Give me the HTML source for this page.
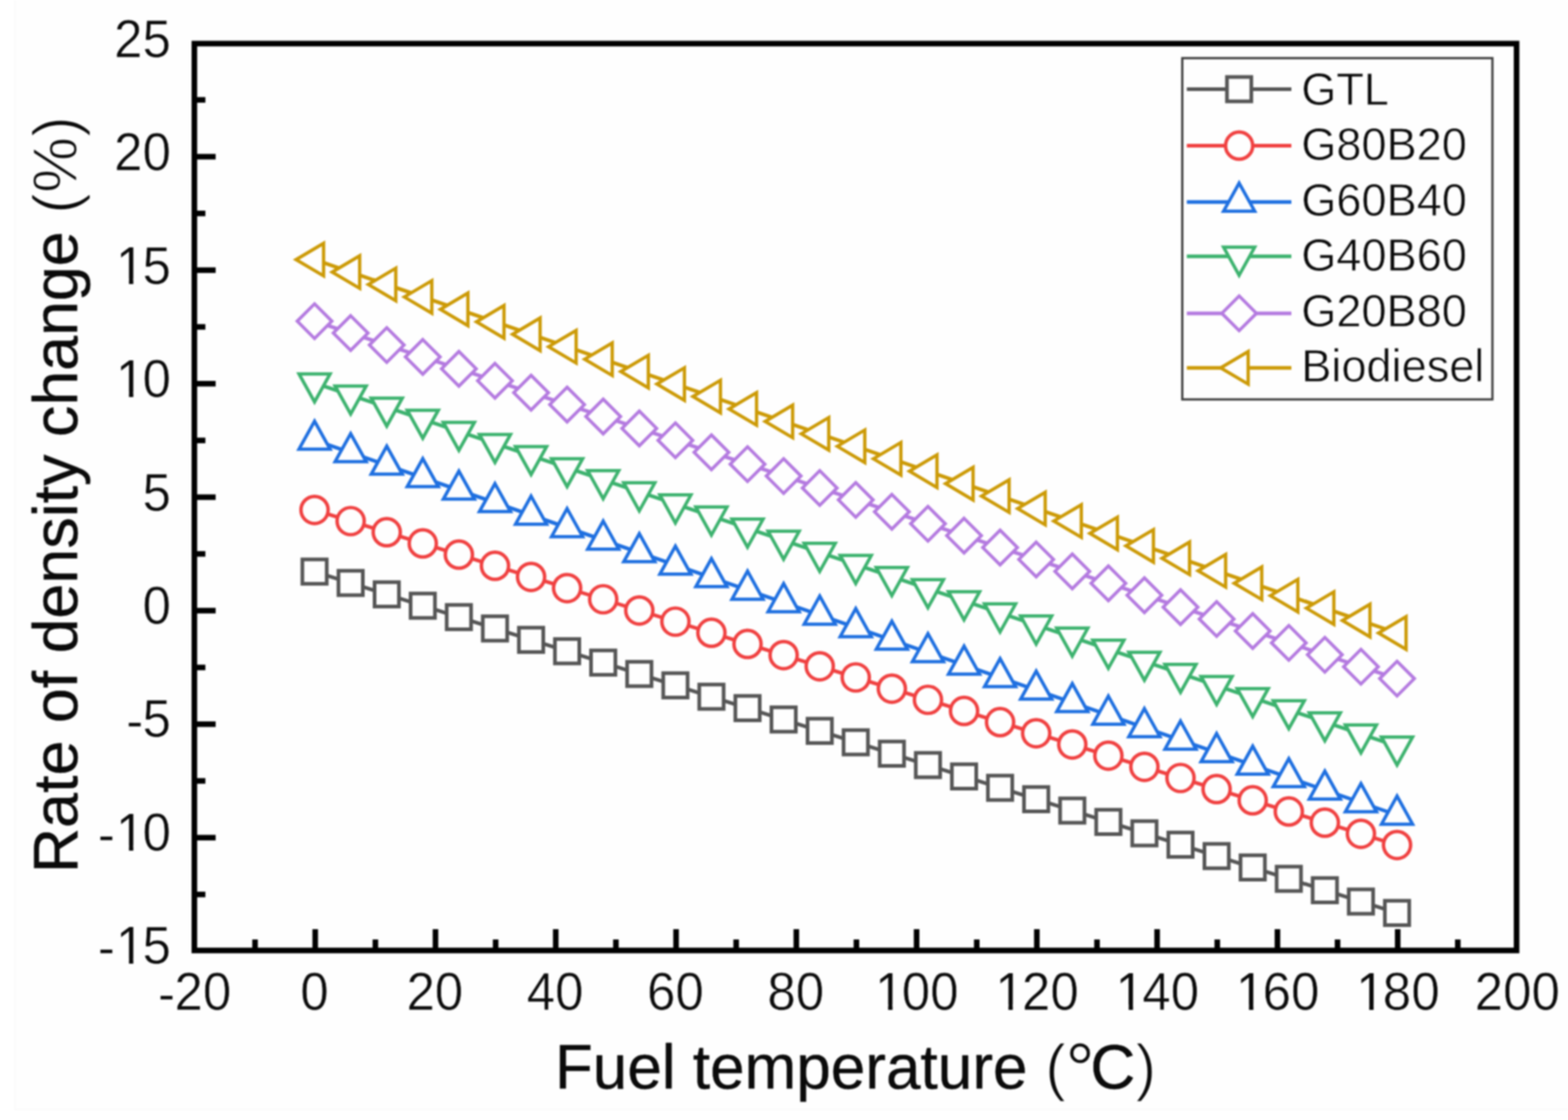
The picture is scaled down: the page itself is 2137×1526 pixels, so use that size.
<!DOCTYPE html>
<html lang="en"><head><meta charset="utf-8"><title>Rate of density change vs fuel temperature</title>
<style>
html,body{margin:0;padding:0;background:#fff;}
body{width:2137px;height:1526px;overflow:hidden;}
svg{display:block;filter:blur(1.0px);}
text{font-family:"Liberation Sans",Arial,Helvetica,sans-serif;fill:#0a0a0a;}
.tk{font-size:69.6px;stroke:#fefefe;stroke-width:0.7;}
.lg{font-size:61.5px;stroke:#fefefe;stroke-width:0.8;}
.tt{stroke:#0a0a0a;stroke-width:0.5;stroke-linejoin:round;}
.th{stroke:#fefefe;stroke-width:1.6;}
.on{stroke-width:0.2;}
.dg{stroke:#fefefe;stroke-width:0.8;}
</style></head><body>
<svg width="2137" height="1526" viewBox="0 0 2137 1526">
<rect x="0" y="0" width="2137" height="1526" fill="#fff"/>
<rect x="20" y="0" width="2117" height="1512" fill="#fefefe"/>
<path d="M20.5 0V1511.5H2137" fill="none" stroke="#fbfbfb" stroke-width="3"/>
<g>
<line x1="428.7" y1="778.8" x2="1904" y2="1243.9" stroke="#555555" stroke-width="5"/>
<rect x="412.1" y="762.2" width="33.2" height="33.2" fill="#fefefe" stroke="#555555" stroke-width="5"/>
<rect x="461.3" y="777.7" width="33.2" height="33.2" fill="#fefefe" stroke="#555555" stroke-width="5"/>
<rect x="510.5" y="793.2" width="33.2" height="33.2" fill="#fefefe" stroke="#555555" stroke-width="5"/>
<rect x="559.6" y="808.7" width="33.2" height="33.2" fill="#fefefe" stroke="#555555" stroke-width="5"/>
<rect x="608.8" y="824.2" width="33.2" height="33.2" fill="#fefefe" stroke="#555555" stroke-width="5"/>
<rect x="658" y="839.7" width="33.2" height="33.2" fill="#fefefe" stroke="#555555" stroke-width="5"/>
<rect x="707.2" y="855.2" width="33.2" height="33.2" fill="#fefefe" stroke="#555555" stroke-width="5"/>
<rect x="756.3" y="870.7" width="33.2" height="33.2" fill="#fefefe" stroke="#555555" stroke-width="5"/>
<rect x="805.5" y="886.2" width="33.2" height="33.2" fill="#fefefe" stroke="#555555" stroke-width="5"/>
<rect x="854.7" y="901.7" width="33.2" height="33.2" fill="#fefefe" stroke="#555555" stroke-width="5"/>
<rect x="903.9" y="917.2" width="33.2" height="33.2" fill="#fefefe" stroke="#555555" stroke-width="5"/>
<rect x="953" y="932.7" width="33.2" height="33.2" fill="#fefefe" stroke="#555555" stroke-width="5"/>
<rect x="1002.2" y="948.2" width="33.2" height="33.2" fill="#fefefe" stroke="#555555" stroke-width="5"/>
<rect x="1051.4" y="963.7" width="33.2" height="33.2" fill="#fefefe" stroke="#555555" stroke-width="5"/>
<rect x="1100.6" y="979.2" width="33.2" height="33.2" fill="#fefefe" stroke="#555555" stroke-width="5"/>
<rect x="1149.7" y="994.8" width="33.2" height="33.2" fill="#fefefe" stroke="#555555" stroke-width="5"/>
<rect x="1198.9" y="1010.3" width="33.2" height="33.2" fill="#fefefe" stroke="#555555" stroke-width="5"/>
<rect x="1248.1" y="1025.8" width="33.2" height="33.2" fill="#fefefe" stroke="#555555" stroke-width="5"/>
<rect x="1297.3" y="1041.3" width="33.2" height="33.2" fill="#fefefe" stroke="#555555" stroke-width="5"/>
<rect x="1346.4" y="1056.8" width="33.2" height="33.2" fill="#fefefe" stroke="#555555" stroke-width="5"/>
<rect x="1395.6" y="1072.3" width="33.2" height="33.2" fill="#fefefe" stroke="#555555" stroke-width="5"/>
<rect x="1444.8" y="1087.8" width="33.2" height="33.2" fill="#fefefe" stroke="#555555" stroke-width="5"/>
<rect x="1494" y="1103.3" width="33.2" height="33.2" fill="#fefefe" stroke="#555555" stroke-width="5"/>
<rect x="1543.1" y="1118.8" width="33.2" height="33.2" fill="#fefefe" stroke="#555555" stroke-width="5"/>
<rect x="1592.3" y="1134.3" width="33.2" height="33.2" fill="#fefefe" stroke="#555555" stroke-width="5"/>
<rect x="1641.5" y="1149.8" width="33.2" height="33.2" fill="#fefefe" stroke="#555555" stroke-width="5"/>
<rect x="1690.7" y="1165.3" width="33.2" height="33.2" fill="#fefefe" stroke="#555555" stroke-width="5"/>
<rect x="1739.9" y="1180.8" width="33.2" height="33.2" fill="#fefefe" stroke="#555555" stroke-width="5"/>
<rect x="1789" y="1196.3" width="33.2" height="33.2" fill="#fefefe" stroke="#555555" stroke-width="5"/>
<rect x="1838.2" y="1211.8" width="33.2" height="33.2" fill="#fefefe" stroke="#555555" stroke-width="5"/>
<rect x="1887.4" y="1227.3" width="33.2" height="33.2" fill="#fefefe" stroke="#555555" stroke-width="5"/>
</g>
<g>
<line x1="428.7" y1="694.8" x2="1904" y2="1151.3" stroke="#f04040" stroke-width="5"/>
<circle cx="428.7" cy="694.8" r="18.5" fill="#fefefe" stroke="#f04040" stroke-width="4.7"/>
<circle cx="477.9" cy="710" r="18.5" fill="#fefefe" stroke="#f04040" stroke-width="4.7"/>
<circle cx="527.1" cy="725.2" r="18.5" fill="#fefefe" stroke="#f04040" stroke-width="4.7"/>
<circle cx="576.2" cy="740.4" r="18.5" fill="#fefefe" stroke="#f04040" stroke-width="4.7"/>
<circle cx="625.4" cy="755.7" r="18.5" fill="#fefefe" stroke="#f04040" stroke-width="4.7"/>
<circle cx="674.6" cy="770.9" r="18.5" fill="#fefefe" stroke="#f04040" stroke-width="4.7"/>
<circle cx="723.8" cy="786.1" r="18.5" fill="#fefefe" stroke="#f04040" stroke-width="4.7"/>
<circle cx="772.9" cy="801.3" r="18.5" fill="#fefefe" stroke="#f04040" stroke-width="4.7"/>
<circle cx="822.1" cy="816.5" r="18.5" fill="#fefefe" stroke="#f04040" stroke-width="4.7"/>
<circle cx="871.3" cy="831.8" r="18.5" fill="#fefefe" stroke="#f04040" stroke-width="4.7"/>
<circle cx="920.5" cy="847" r="18.5" fill="#fefefe" stroke="#f04040" stroke-width="4.7"/>
<circle cx="969.6" cy="862.2" r="18.5" fill="#fefefe" stroke="#f04040" stroke-width="4.7"/>
<circle cx="1018.8" cy="877.4" r="18.5" fill="#fefefe" stroke="#f04040" stroke-width="4.7"/>
<circle cx="1068" cy="892.6" r="18.5" fill="#fefefe" stroke="#f04040" stroke-width="4.7"/>
<circle cx="1117.2" cy="907.8" r="18.5" fill="#fefefe" stroke="#f04040" stroke-width="4.7"/>
<circle cx="1166.3" cy="923" r="18.5" fill="#fefefe" stroke="#f04040" stroke-width="4.7"/>
<circle cx="1215.5" cy="938.3" r="18.5" fill="#fefefe" stroke="#f04040" stroke-width="4.7"/>
<circle cx="1264.7" cy="953.5" r="18.5" fill="#fefefe" stroke="#f04040" stroke-width="4.7"/>
<circle cx="1313.9" cy="968.7" r="18.5" fill="#fefefe" stroke="#f04040" stroke-width="4.7"/>
<circle cx="1363" cy="983.9" r="18.5" fill="#fefefe" stroke="#f04040" stroke-width="4.7"/>
<circle cx="1412.2" cy="999.1" r="18.5" fill="#fefefe" stroke="#f04040" stroke-width="4.7"/>
<circle cx="1461.4" cy="1014.3" r="18.5" fill="#fefefe" stroke="#f04040" stroke-width="4.7"/>
<circle cx="1510.6" cy="1029.6" r="18.5" fill="#fefefe" stroke="#f04040" stroke-width="4.7"/>
<circle cx="1559.7" cy="1044.8" r="18.5" fill="#fefefe" stroke="#f04040" stroke-width="4.7"/>
<circle cx="1608.9" cy="1060" r="18.5" fill="#fefefe" stroke="#f04040" stroke-width="4.7"/>
<circle cx="1658.1" cy="1075.2" r="18.5" fill="#fefefe" stroke="#f04040" stroke-width="4.7"/>
<circle cx="1707.3" cy="1090.4" r="18.5" fill="#fefefe" stroke="#f04040" stroke-width="4.7"/>
<circle cx="1756.5" cy="1105.7" r="18.5" fill="#fefefe" stroke="#f04040" stroke-width="4.7"/>
<circle cx="1805.6" cy="1120.9" r="18.5" fill="#fefefe" stroke="#f04040" stroke-width="4.7"/>
<circle cx="1854.8" cy="1136.1" r="18.5" fill="#fefefe" stroke="#f04040" stroke-width="4.7"/>
<circle cx="1904" cy="1151.3" r="18.5" fill="#fefefe" stroke="#f04040" stroke-width="4.7"/>
</g>
<g>
<line x1="428.7" y1="599.6" x2="1904" y2="1110.5" stroke="#1e6fe0" stroke-width="5"/>
<polygon points="428.7,573.8 449.9,612 407.5,612" fill="#fefefe" stroke="#1e6fe0" stroke-width="4.5"/>
<polygon points="477.9,590.8 499.1,629 456.7,629" fill="#fefefe" stroke="#1e6fe0" stroke-width="4.5"/>
<polygon points="527.1,607.9 548.3,646.1 505.9,646.1" fill="#fefefe" stroke="#1e6fe0" stroke-width="4.5"/>
<polygon points="576.2,624.9 597.4,663.1 555,663.1" fill="#fefefe" stroke="#1e6fe0" stroke-width="4.5"/>
<polygon points="625.4,641.9 646.6,680.1 604.2,680.1" fill="#fefefe" stroke="#1e6fe0" stroke-width="4.5"/>
<polygon points="674.6,659 695.8,697.1 653.4,697.1" fill="#fefefe" stroke="#1e6fe0" stroke-width="4.5"/>
<polygon points="723.8,676 745,714.2 702.6,714.2" fill="#fefefe" stroke="#1e6fe0" stroke-width="4.5"/>
<polygon points="772.9,693 794.1,731.2 751.7,731.2" fill="#fefefe" stroke="#1e6fe0" stroke-width="4.5"/>
<polygon points="822.1,710 843.3,748.2 800.9,748.2" fill="#fefefe" stroke="#1e6fe0" stroke-width="4.5"/>
<polygon points="871.3,727.1 892.5,765.3 850.1,765.3" fill="#fefefe" stroke="#1e6fe0" stroke-width="4.5"/>
<polygon points="920.5,744.1 941.7,782.3 899.3,782.3" fill="#fefefe" stroke="#1e6fe0" stroke-width="4.5"/>
<polygon points="969.6,761.1 990.8,799.3 948.4,799.3" fill="#fefefe" stroke="#1e6fe0" stroke-width="4.5"/>
<polygon points="1018.8,778.2 1040,816.4 997.6,816.4" fill="#fefefe" stroke="#1e6fe0" stroke-width="4.5"/>
<polygon points="1068,795.2 1089.2,833.4 1046.8,833.4" fill="#fefefe" stroke="#1e6fe0" stroke-width="4.5"/>
<polygon points="1117.2,812.2 1138.4,850.4 1096,850.4" fill="#fefefe" stroke="#1e6fe0" stroke-width="4.5"/>
<polygon points="1166.3,829.2 1187.5,867.4 1145.1,867.4" fill="#fefefe" stroke="#1e6fe0" stroke-width="4.5"/>
<polygon points="1215.5,846.3 1236.7,884.5 1194.3,884.5" fill="#fefefe" stroke="#1e6fe0" stroke-width="4.5"/>
<polygon points="1264.7,863.3 1285.9,901.5 1243.5,901.5" fill="#fefefe" stroke="#1e6fe0" stroke-width="4.5"/>
<polygon points="1313.9,880.3 1335.1,918.5 1292.7,918.5" fill="#fefefe" stroke="#1e6fe0" stroke-width="4.5"/>
<polygon points="1363,897.4 1384.2,935.6 1341.8,935.6" fill="#fefefe" stroke="#1e6fe0" stroke-width="4.5"/>
<polygon points="1412.2,914.4 1433.4,952.6 1391,952.6" fill="#fefefe" stroke="#1e6fe0" stroke-width="4.5"/>
<polygon points="1461.4,931.4 1482.6,969.6 1440.2,969.6" fill="#fefefe" stroke="#1e6fe0" stroke-width="4.5"/>
<polygon points="1510.6,948.5 1531.8,986.7 1489.4,986.7" fill="#fefefe" stroke="#1e6fe0" stroke-width="4.5"/>
<polygon points="1559.7,965.5 1580.9,1003.7 1538.5,1003.7" fill="#fefefe" stroke="#1e6fe0" stroke-width="4.5"/>
<polygon points="1608.9,982.5 1630.1,1020.7 1587.7,1020.7" fill="#fefefe" stroke="#1e6fe0" stroke-width="4.5"/>
<polygon points="1658.1,999.5 1679.3,1037.8 1636.9,1037.8" fill="#fefefe" stroke="#1e6fe0" stroke-width="4.5"/>
<polygon points="1707.3,1016.6 1728.5,1054.8 1686.1,1054.8" fill="#fefefe" stroke="#1e6fe0" stroke-width="4.5"/>
<polygon points="1756.5,1033.6 1777.7,1071.8 1735.3,1071.8" fill="#fefefe" stroke="#1e6fe0" stroke-width="4.5"/>
<polygon points="1805.6,1050.6 1826.8,1088.8 1784.4,1088.8" fill="#fefefe" stroke="#1e6fe0" stroke-width="4.5"/>
<polygon points="1854.8,1067.7 1876,1105.9 1833.6,1105.9" fill="#fefefe" stroke="#1e6fe0" stroke-width="4.5"/>
<polygon points="1904,1084.7 1925.2,1122.9 1882.8,1122.9" fill="#fefefe" stroke="#1e6fe0" stroke-width="4.5"/>
</g>
<g>
<line x1="428.7" y1="521.8" x2="1904" y2="1016.6" stroke="#3cb26e" stroke-width="5"/>
<polygon points="428.7,547.6 449.9,509.4 407.5,509.4" fill="#fefefe" stroke="#3cb26e" stroke-width="4.5"/>
<polygon points="477.9,564.1 499.1,525.9 456.7,525.9" fill="#fefefe" stroke="#3cb26e" stroke-width="4.5"/>
<polygon points="527.1,580.6 548.3,542.4 505.9,542.4" fill="#fefefe" stroke="#3cb26e" stroke-width="4.5"/>
<polygon points="576.2,597.1 597.4,558.9 555,558.9" fill="#fefefe" stroke="#3cb26e" stroke-width="4.5"/>
<polygon points="625.4,613.6 646.6,575.4 604.2,575.4" fill="#fefefe" stroke="#3cb26e" stroke-width="4.5"/>
<polygon points="674.6,630.1 695.8,591.9 653.4,591.9" fill="#fefefe" stroke="#3cb26e" stroke-width="4.5"/>
<polygon points="723.8,646.6 745,608.4 702.6,608.4" fill="#fefefe" stroke="#3cb26e" stroke-width="4.5"/>
<polygon points="772.9,663.1 794.1,624.9 751.7,624.9" fill="#fefefe" stroke="#3cb26e" stroke-width="4.5"/>
<polygon points="822.1,679.5 843.3,641.3 800.9,641.3" fill="#fefefe" stroke="#3cb26e" stroke-width="4.5"/>
<polygon points="871.3,696 892.5,657.8 850.1,657.8" fill="#fefefe" stroke="#3cb26e" stroke-width="4.5"/>
<polygon points="920.5,712.5 941.7,674.3 899.3,674.3" fill="#fefefe" stroke="#3cb26e" stroke-width="4.5"/>
<polygon points="969.6,729 990.8,690.8 948.4,690.8" fill="#fefefe" stroke="#3cb26e" stroke-width="4.5"/>
<polygon points="1018.8,745.5 1040,707.3 997.6,707.3" fill="#fefefe" stroke="#3cb26e" stroke-width="4.5"/>
<polygon points="1068,762 1089.2,723.8 1046.8,723.8" fill="#fefefe" stroke="#3cb26e" stroke-width="4.5"/>
<polygon points="1117.2,778.5 1138.4,740.3 1096,740.3" fill="#fefefe" stroke="#3cb26e" stroke-width="4.5"/>
<polygon points="1166.3,795 1187.5,756.8 1145.1,756.8" fill="#fefefe" stroke="#3cb26e" stroke-width="4.5"/>
<polygon points="1215.5,811.5 1236.7,773.3 1194.3,773.3" fill="#fefefe" stroke="#3cb26e" stroke-width="4.5"/>
<polygon points="1264.7,828 1285.9,789.8 1243.5,789.8" fill="#fefefe" stroke="#3cb26e" stroke-width="4.5"/>
<polygon points="1313.9,844.5 1335.1,806.3 1292.7,806.3" fill="#fefefe" stroke="#3cb26e" stroke-width="4.5"/>
<polygon points="1363,861 1384.2,822.8 1341.8,822.8" fill="#fefefe" stroke="#3cb26e" stroke-width="4.5"/>
<polygon points="1412.2,877.5 1433.4,839.3 1391,839.3" fill="#fefefe" stroke="#3cb26e" stroke-width="4.5"/>
<polygon points="1461.4,894 1482.6,855.8 1440.2,855.8" fill="#fefefe" stroke="#3cb26e" stroke-width="4.5"/>
<polygon points="1510.6,910.5 1531.8,872.3 1489.4,872.3" fill="#fefefe" stroke="#3cb26e" stroke-width="4.5"/>
<polygon points="1559.7,926.9 1580.9,888.7 1538.5,888.7" fill="#fefefe" stroke="#3cb26e" stroke-width="4.5"/>
<polygon points="1608.9,943.4 1630.1,905.2 1587.7,905.2" fill="#fefefe" stroke="#3cb26e" stroke-width="4.5"/>
<polygon points="1658.1,959.9 1679.3,921.7 1636.9,921.7" fill="#fefefe" stroke="#3cb26e" stroke-width="4.5"/>
<polygon points="1707.3,976.4 1728.5,938.2 1686.1,938.2" fill="#fefefe" stroke="#3cb26e" stroke-width="4.5"/>
<polygon points="1756.5,992.9 1777.7,954.7 1735.3,954.7" fill="#fefefe" stroke="#3cb26e" stroke-width="4.5"/>
<polygon points="1805.6,1009.4 1826.8,971.2 1784.4,971.2" fill="#fefefe" stroke="#3cb26e" stroke-width="4.5"/>
<polygon points="1854.8,1025.9 1876,987.7 1833.6,987.7" fill="#fefefe" stroke="#3cb26e" stroke-width="4.5"/>
<polygon points="1904,1042.4 1925.2,1004.2 1882.8,1004.2" fill="#fefefe" stroke="#3cb26e" stroke-width="4.5"/>
</g>
<g>
<line x1="428.7" y1="437.6" x2="1904" y2="924.6" stroke="#b47ae0" stroke-width="5"/>
<polygon points="428.7,414 452.3,437.6 428.7,461.2 405.1,437.6" fill="#fefefe" stroke="#b47ae0" stroke-width="4.4"/>
<polygon points="477.9,430.2 501.5,453.8 477.9,477.4 454.3,453.8" fill="#fefefe" stroke="#b47ae0" stroke-width="4.4"/>
<polygon points="527.1,446.5 550.7,470.1 527.1,493.7 503.5,470.1" fill="#fefefe" stroke="#b47ae0" stroke-width="4.4"/>
<polygon points="576.2,462.7 599.8,486.3 576.2,509.9 552.6,486.3" fill="#fefefe" stroke="#b47ae0" stroke-width="4.4"/>
<polygon points="625.4,478.9 649,502.5 625.4,526.1 601.8,502.5" fill="#fefefe" stroke="#b47ae0" stroke-width="4.4"/>
<polygon points="674.6,495.2 698.2,518.8 674.6,542.4 651,518.8" fill="#fefefe" stroke="#b47ae0" stroke-width="4.4"/>
<polygon points="723.8,511.4 747.4,535 723.8,558.6 700.2,535" fill="#fefefe" stroke="#b47ae0" stroke-width="4.4"/>
<polygon points="772.9,527.6 796.5,551.2 772.9,574.8 749.3,551.2" fill="#fefefe" stroke="#b47ae0" stroke-width="4.4"/>
<polygon points="822.1,543.9 845.7,567.5 822.1,591.1 798.5,567.5" fill="#fefefe" stroke="#b47ae0" stroke-width="4.4"/>
<polygon points="871.3,560.1 894.9,583.7 871.3,607.3 847.7,583.7" fill="#fefefe" stroke="#b47ae0" stroke-width="4.4"/>
<polygon points="920.5,576.3 944.1,599.9 920.5,623.5 896.9,599.9" fill="#fefefe" stroke="#b47ae0" stroke-width="4.4"/>
<polygon points="969.6,592.6 993.2,616.2 969.6,639.8 946,616.2" fill="#fefefe" stroke="#b47ae0" stroke-width="4.4"/>
<polygon points="1018.8,608.8 1042.4,632.4 1018.8,656 995.2,632.4" fill="#fefefe" stroke="#b47ae0" stroke-width="4.4"/>
<polygon points="1068,625 1091.6,648.6 1068,672.2 1044.4,648.6" fill="#fefefe" stroke="#b47ae0" stroke-width="4.4"/>
<polygon points="1117.2,641.3 1140.8,664.9 1117.2,688.5 1093.6,664.9" fill="#fefefe" stroke="#b47ae0" stroke-width="4.4"/>
<polygon points="1166.3,657.5 1189.9,681.1 1166.3,704.7 1142.7,681.1" fill="#fefefe" stroke="#b47ae0" stroke-width="4.4"/>
<polygon points="1215.5,673.7 1239.1,697.3 1215.5,720.9 1191.9,697.3" fill="#fefefe" stroke="#b47ae0" stroke-width="4.4"/>
<polygon points="1264.7,690 1288.3,713.6 1264.7,737.2 1241.1,713.6" fill="#fefefe" stroke="#b47ae0" stroke-width="4.4"/>
<polygon points="1313.9,706.2 1337.5,729.8 1313.9,753.4 1290.3,729.8" fill="#fefefe" stroke="#b47ae0" stroke-width="4.4"/>
<polygon points="1363,722.4 1386.6,746 1363,769.6 1339.4,746" fill="#fefefe" stroke="#b47ae0" stroke-width="4.4"/>
<polygon points="1412.2,738.7 1435.8,762.3 1412.2,785.9 1388.6,762.3" fill="#fefefe" stroke="#b47ae0" stroke-width="4.4"/>
<polygon points="1461.4,754.9 1485,778.5 1461.4,802.1 1437.8,778.5" fill="#fefefe" stroke="#b47ae0" stroke-width="4.4"/>
<polygon points="1510.6,771.1 1534.2,794.7 1510.6,818.3 1487,794.7" fill="#fefefe" stroke="#b47ae0" stroke-width="4.4"/>
<polygon points="1559.7,787.4 1583.3,811 1559.7,834.6 1536.1,811" fill="#fefefe" stroke="#b47ae0" stroke-width="4.4"/>
<polygon points="1608.9,803.6 1632.5,827.2 1608.9,850.8 1585.3,827.2" fill="#fefefe" stroke="#b47ae0" stroke-width="4.4"/>
<polygon points="1658.1,819.8 1681.7,843.4 1658.1,867 1634.5,843.4" fill="#fefefe" stroke="#b47ae0" stroke-width="4.4"/>
<polygon points="1707.3,836.1 1730.9,859.7 1707.3,883.3 1683.7,859.7" fill="#fefefe" stroke="#b47ae0" stroke-width="4.4"/>
<polygon points="1756.5,852.3 1780.1,875.9 1756.5,899.5 1732.9,875.9" fill="#fefefe" stroke="#b47ae0" stroke-width="4.4"/>
<polygon points="1805.6,868.5 1829.2,892.1 1805.6,915.7 1782,892.1" fill="#fefefe" stroke="#b47ae0" stroke-width="4.4"/>
<polygon points="1854.8,884.8 1878.4,908.4 1854.8,932 1831.2,908.4" fill="#fefefe" stroke="#b47ae0" stroke-width="4.4"/>
<polygon points="1904,901 1927.6,924.6 1904,948.2 1880.4,924.6" fill="#fefefe" stroke="#b47ae0" stroke-width="4.4"/>
</g>
<g>
<line x1="428.7" y1="353.7" x2="1904" y2="862.5" stroke="#cc9a06" stroke-width="5"/>
<polygon points="403.5,353.7 441,331.5 441,375.9" fill="#fefefe" stroke="#cc9a06" stroke-width="4.5"/>
<polygon points="452.7,370.7 490.2,348.5 490.2,392.9" fill="#fefefe" stroke="#cc9a06" stroke-width="4.5"/>
<polygon points="501.9,387.6 539.4,365.4 539.4,409.8" fill="#fefefe" stroke="#cc9a06" stroke-width="4.5"/>
<polygon points="551,404.6 588.5,382.4 588.5,426.8" fill="#fefefe" stroke="#cc9a06" stroke-width="4.5"/>
<polygon points="600.2,421.5 637.7,399.3 637.7,443.7" fill="#fefefe" stroke="#cc9a06" stroke-width="4.5"/>
<polygon points="649.4,438.5 686.9,416.3 686.9,460.7" fill="#fefefe" stroke="#cc9a06" stroke-width="4.5"/>
<polygon points="698.6,455.5 736.1,433.3 736.1,477.7" fill="#fefefe" stroke="#cc9a06" stroke-width="4.5"/>
<polygon points="747.7,472.4 785.2,450.2 785.2,494.6" fill="#fefefe" stroke="#cc9a06" stroke-width="4.5"/>
<polygon points="796.9,489.4 834.4,467.2 834.4,511.6" fill="#fefefe" stroke="#cc9a06" stroke-width="4.5"/>
<polygon points="846.1,506.3 883.6,484.1 883.6,528.5" fill="#fefefe" stroke="#cc9a06" stroke-width="4.5"/>
<polygon points="895.3,523.3 932.8,501.1 932.8,545.5" fill="#fefefe" stroke="#cc9a06" stroke-width="4.5"/>
<polygon points="944.4,540.3 981.9,518.1 981.9,562.5" fill="#fefefe" stroke="#cc9a06" stroke-width="4.5"/>
<polygon points="993.6,557.2 1031.1,535 1031.1,579.4" fill="#fefefe" stroke="#cc9a06" stroke-width="4.5"/>
<polygon points="1042.8,574.2 1080.3,552 1080.3,596.4" fill="#fefefe" stroke="#cc9a06" stroke-width="4.5"/>
<polygon points="1092,591.1 1129.5,568.9 1129.5,613.3" fill="#fefefe" stroke="#cc9a06" stroke-width="4.5"/>
<polygon points="1141.1,608.1 1178.6,585.9 1178.6,630.3" fill="#fefefe" stroke="#cc9a06" stroke-width="4.5"/>
<polygon points="1190.3,625.1 1227.8,602.9 1227.8,647.3" fill="#fefefe" stroke="#cc9a06" stroke-width="4.5"/>
<polygon points="1239.5,642 1277,619.8 1277,664.2" fill="#fefefe" stroke="#cc9a06" stroke-width="4.5"/>
<polygon points="1288.7,659 1326.2,636.8 1326.2,681.2" fill="#fefefe" stroke="#cc9a06" stroke-width="4.5"/>
<polygon points="1337.8,675.9 1375.3,653.7 1375.3,698.1" fill="#fefefe" stroke="#cc9a06" stroke-width="4.5"/>
<polygon points="1387,692.9 1424.5,670.7 1424.5,715.1" fill="#fefefe" stroke="#cc9a06" stroke-width="4.5"/>
<polygon points="1436.2,709.9 1473.7,687.7 1473.7,732.1" fill="#fefefe" stroke="#cc9a06" stroke-width="4.5"/>
<polygon points="1485.4,726.8 1522.9,704.6 1522.9,749" fill="#fefefe" stroke="#cc9a06" stroke-width="4.5"/>
<polygon points="1534.5,743.8 1572,721.6 1572,766" fill="#fefefe" stroke="#cc9a06" stroke-width="4.5"/>
<polygon points="1583.7,760.7 1621.2,738.5 1621.2,782.9" fill="#fefefe" stroke="#cc9a06" stroke-width="4.5"/>
<polygon points="1632.9,777.7 1670.4,755.5 1670.4,799.9" fill="#fefefe" stroke="#cc9a06" stroke-width="4.5"/>
<polygon points="1682.1,794.7 1719.6,772.5 1719.6,816.9" fill="#fefefe" stroke="#cc9a06" stroke-width="4.5"/>
<polygon points="1731.3,811.6 1768.8,789.4 1768.8,833.8" fill="#fefefe" stroke="#cc9a06" stroke-width="4.5"/>
<polygon points="1780.4,828.6 1817.9,806.4 1817.9,850.8" fill="#fefefe" stroke="#cc9a06" stroke-width="4.5"/>
<polygon points="1829.6,845.5 1867.1,823.3 1867.1,867.7" fill="#fefefe" stroke="#cc9a06" stroke-width="4.5"/>
<polygon points="1878.8,862.5 1916.3,840.3 1916.3,884.7" fill="#fefefe" stroke="#cc9a06" stroke-width="4.5"/>
</g>
<g stroke="#000" stroke-width="7.6" fill="none">
<rect x="264.9" y="59.4" width="1802" height="1235.6"/>
</g>
<g stroke="#000" stroke-width="7.6">
<line x1="347.6" y1="1295" x2="347.6" y2="1280"/>
<line x1="429.6" y1="1295" x2="429.6" y2="1266"/>
<line x1="511.6" y1="1295" x2="511.6" y2="1280"/>
<line x1="593.5" y1="1295" x2="593.5" y2="1266"/>
<line x1="675.5" y1="1295" x2="675.5" y2="1280"/>
<line x1="757.4" y1="1295" x2="757.4" y2="1266"/>
<line x1="839.4" y1="1295" x2="839.4" y2="1280"/>
<line x1="921.4" y1="1295" x2="921.4" y2="1266"/>
<line x1="1003.3" y1="1295" x2="1003.3" y2="1280"/>
<line x1="1085.3" y1="1295" x2="1085.3" y2="1266"/>
<line x1="1167.2" y1="1295" x2="1167.2" y2="1280"/>
<line x1="1249.2" y1="1295" x2="1249.2" y2="1266"/>
<line x1="1331.2" y1="1295" x2="1331.2" y2="1280"/>
<line x1="1413.1" y1="1295" x2="1413.1" y2="1266"/>
<line x1="1495.1" y1="1295" x2="1495.1" y2="1280"/>
<line x1="1577" y1="1295" x2="1577" y2="1266"/>
<line x1="1659" y1="1295" x2="1659" y2="1280"/>
<line x1="1741" y1="1295" x2="1741" y2="1266"/>
<line x1="1822.9" y1="1295" x2="1822.9" y2="1280"/>
<line x1="1904.9" y1="1295" x2="1904.9" y2="1266"/>
<line x1="1986.8" y1="1295" x2="1986.8" y2="1280"/>
<line x1="264.9" y1="1218.7" x2="279.9" y2="1218.7"/>
<line x1="264.9" y1="1141.3" x2="293.9" y2="1141.3"/>
<line x1="264.9" y1="1064" x2="279.9" y2="1064"/>
<line x1="264.9" y1="986.7" x2="293.9" y2="986.7"/>
<line x1="264.9" y1="909.4" x2="279.9" y2="909.4"/>
<line x1="264.9" y1="832" x2="293.9" y2="832"/>
<line x1="264.9" y1="754.7" x2="279.9" y2="754.7"/>
<line x1="264.9" y1="677.4" x2="293.9" y2="677.4"/>
<line x1="264.9" y1="600.1" x2="279.9" y2="600.1"/>
<line x1="264.9" y1="522.8" x2="293.9" y2="522.8"/>
<line x1="264.9" y1="445.4" x2="279.9" y2="445.4"/>
<line x1="264.9" y1="368.1" x2="293.9" y2="368.1"/>
<line x1="264.9" y1="290.8" x2="279.9" y2="290.8"/>
<line x1="264.9" y1="213.5" x2="293.9" y2="213.5"/>
<line x1="264.9" y1="136.1" x2="279.9" y2="136.1"/>
</g>
<g class="tk">
<text transform="translate(264.8 1375.7) scale(1 1.04)" x="-49.5 -27.1 11.6" y="2 0 0">-20</text>
<text transform="translate(428.7 1375.7) scale(1 1.04)" x="-19.4" y="0">0</text>
<text transform="translate(592.6 1375.7) scale(1 1.04)" x="-38.7 0" y="0 0">20</text>
<text transform="translate(756.5 1375.7) scale(1 1.04)" x="-38.7 0" y="0 0">40</text>
<text transform="translate(920.5 1375.7) scale(1 1.04)" x="-38.7 0" y="0 0">60</text>
<text transform="translate(1084.4 1375.7) scale(1 1.04)" x="-38.7 0" y="0 0">80</text>
<text transform="translate(1248.3 1375.7) scale(1 1.04)" x="-55.5 -19.4 19.4" y="0 0 0"><tspan class="on">1</tspan>00</text>
<text transform="translate(1412.2 1375.7) scale(1 1.04)" x="-55.5 -19.4 19.4" y="0 0 0"><tspan class="on">1</tspan>20</text>
<text transform="translate(1576.1 1375.7) scale(1 1.04)" x="-55.5 -19.4 19.4" y="0 0 0"><tspan class="on">1</tspan>40</text>
<text transform="translate(1740.1 1375.7) scale(1 1.04)" x="-55.5 -19.4 19.4" y="0 0 0"><tspan class="on">1</tspan>60</text>
<text transform="translate(1904 1375.7) scale(1 1.04)" x="-55.5 -19.4 19.4" y="0 0 0"><tspan class="on">1</tspan>80</text>
<text transform="translate(2067.9 1375.7) scale(1 1.04)" x="-58.1 -19.4 19.4" y="0 0 0">200</text>
<text transform="translate(233 1313.3) scale(1 1.04)" x="-99.8 -74.8 -38.7" y="2 0 0">-<tspan class="on">1</tspan>5</text>
<text transform="translate(233 1158.8) scale(1 1.04)" x="-99.8 -74.8 -38.7" y="2 0 0">-<tspan class="on">1</tspan>0</text>
<text transform="translate(233 1004.4) scale(1 1.04)" x="-61.1 -38.7" y="2 0">-5</text>
<text transform="translate(233 849.9) scale(1 1.04)" x="-38.7" y="0">0</text>
<text transform="translate(233 695.5) scale(1 1.04)" x="-38.7" y="0">5</text>
<text transform="translate(233 541) scale(1 1.04)" x="-74.8 -38.7" y="0 0"><tspan class="on">1</tspan>0</text>
<text transform="translate(233 386.6) scale(1 1.04)" x="-74.8 -38.7" y="0 0"><tspan class="on">1</tspan>5</text>
<text transform="translate(233 232.1) scale(1 1.04)" x="-77.4 -38.7" y="0 0">20</text>
<text transform="translate(233 77.7) scale(1 1.04)" x="-77.4 -38.7" y="0 0">25</text>
</g>
<g><rect x="1196.1" y="1368.8" width="14.3" height="8.9" fill="#fefefe"/><rect x="1216.4" y="1368.8" width="13.8" height="8.9" fill="#fefefe"/><rect x="1360.1" y="1368.8" width="14.3" height="8.9" fill="#fefefe"/><rect x="1380.3" y="1368.8" width="13.8" height="8.9" fill="#fefefe"/><rect x="1524" y="1368.8" width="14.3" height="8.9" fill="#fefefe"/><rect x="1544.2" y="1368.8" width="13.8" height="8.9" fill="#fefefe"/><rect x="1687.9" y="1368.8" width="14.3" height="8.9" fill="#fefefe"/><rect x="1708.2" y="1368.8" width="13.8" height="8.9" fill="#fefefe"/><rect x="1851.8" y="1368.8" width="14.3" height="8.9" fill="#fefefe"/><rect x="1872.1" y="1368.8" width="13.8" height="8.9" fill="#fefefe"/><rect x="161.5" y="1306.4" width="14.3" height="8.9" fill="#fefefe"/><rect x="181.7" y="1306.4" width="13.8" height="8.9" fill="#fefefe"/><rect x="161.5" y="1151.9" width="14.3" height="8.9" fill="#fefefe"/><rect x="181.7" y="1151.9" width="13.8" height="8.9" fill="#fefefe"/><rect x="161.5" y="534.1" width="14.3" height="8.9" fill="#fefefe"/><rect x="181.7" y="534.1" width="13.8" height="8.9" fill="#fefefe"/><rect x="161.5" y="379.7" width="14.3" height="8.9" fill="#fefefe"/><rect x="181.7" y="379.7" width="13.8" height="8.9" fill="#fefefe"/></g>
<text class="tt" y="1483" font-size="85"><tspan x="756.2" font-size="84.6">Fuel temperature </tspan><tspan class="th" x="1424.4">(</tspan><tspan class="dg" x="1452" y="1491" font-size="100">°</tspan><tspan x="1486.1" y="1483">C<tspan class="th">)</tspan></tspan></text>
<text class="tt" transform="translate(105 674) rotate(-90)" text-anchor="middle" font-size="85.5">Rate of density change <tspan class="th">(%)</tspan></text>
<rect x="1611.3" y="79.2" width="422.7" height="465" fill="#fefefe" stroke="#3a3a3a" stroke-width="3"/>
<line x1="1617.5" y1="121.5" x2="1760" y2="121.5" stroke="#555555" stroke-width="5"/>
<rect x="1672.2" y="104.9" width="33.2" height="33.2" fill="#fefefe" stroke="#555555" stroke-width="5"/>
<text class="lg" transform="translate(1773.5 142.8) scale(1 1.03)">GTL</text>
<line x1="1617.5" y1="198.4" x2="1760" y2="198.4" stroke="#f04040" stroke-width="5"/>
<circle cx="1688.8" cy="198.4" r="18.5" fill="#fefefe" stroke="#f04040" stroke-width="4.7"/>
<text class="lg" transform="translate(1773.5 218.3) scale(1 1.03)">G80B20</text>
<line x1="1617.5" y1="275.3" x2="1760" y2="275.3" stroke="#1e6fe0" stroke-width="5"/>
<polygon points="1688.8,249.5 1710,287.7 1667.6,287.7" fill="#fefefe" stroke="#1e6fe0" stroke-width="4.5"/>
<text class="lg" transform="translate(1773.5 293.8) scale(1 1.03)">G60B40</text>
<line x1="1617.5" y1="349.2" x2="1760" y2="349.2" stroke="#3cb26e" stroke-width="5"/>
<polygon points="1688.8,375 1710,336.8 1667.6,336.8" fill="#fefefe" stroke="#3cb26e" stroke-width="4.5"/>
<text class="lg" transform="translate(1773.5 369.3) scale(1 1.03)">G40B60</text>
<line x1="1617.5" y1="426.9" x2="1760" y2="426.9" stroke="#b47ae0" stroke-width="5"/>
<polygon points="1688.8,403.3 1712.4,426.9 1688.8,450.5 1665.2,426.9" fill="#fefefe" stroke="#b47ae0" stroke-width="4.4"/>
<text class="lg" transform="translate(1773.5 444.8) scale(1 1.03)">G20B80</text>
<line x1="1617.5" y1="501.2" x2="1760" y2="501.2" stroke="#cc9a06" stroke-width="5"/>
<polygon points="1663.6,501.2 1701.1,479 1701.1,523.4" fill="#fefefe" stroke="#cc9a06" stroke-width="4.5"/>
<text class="lg" transform="translate(1773.5 520.3) scale(1 1.03)">Biodiesel</text>
</svg>
</body></html>
